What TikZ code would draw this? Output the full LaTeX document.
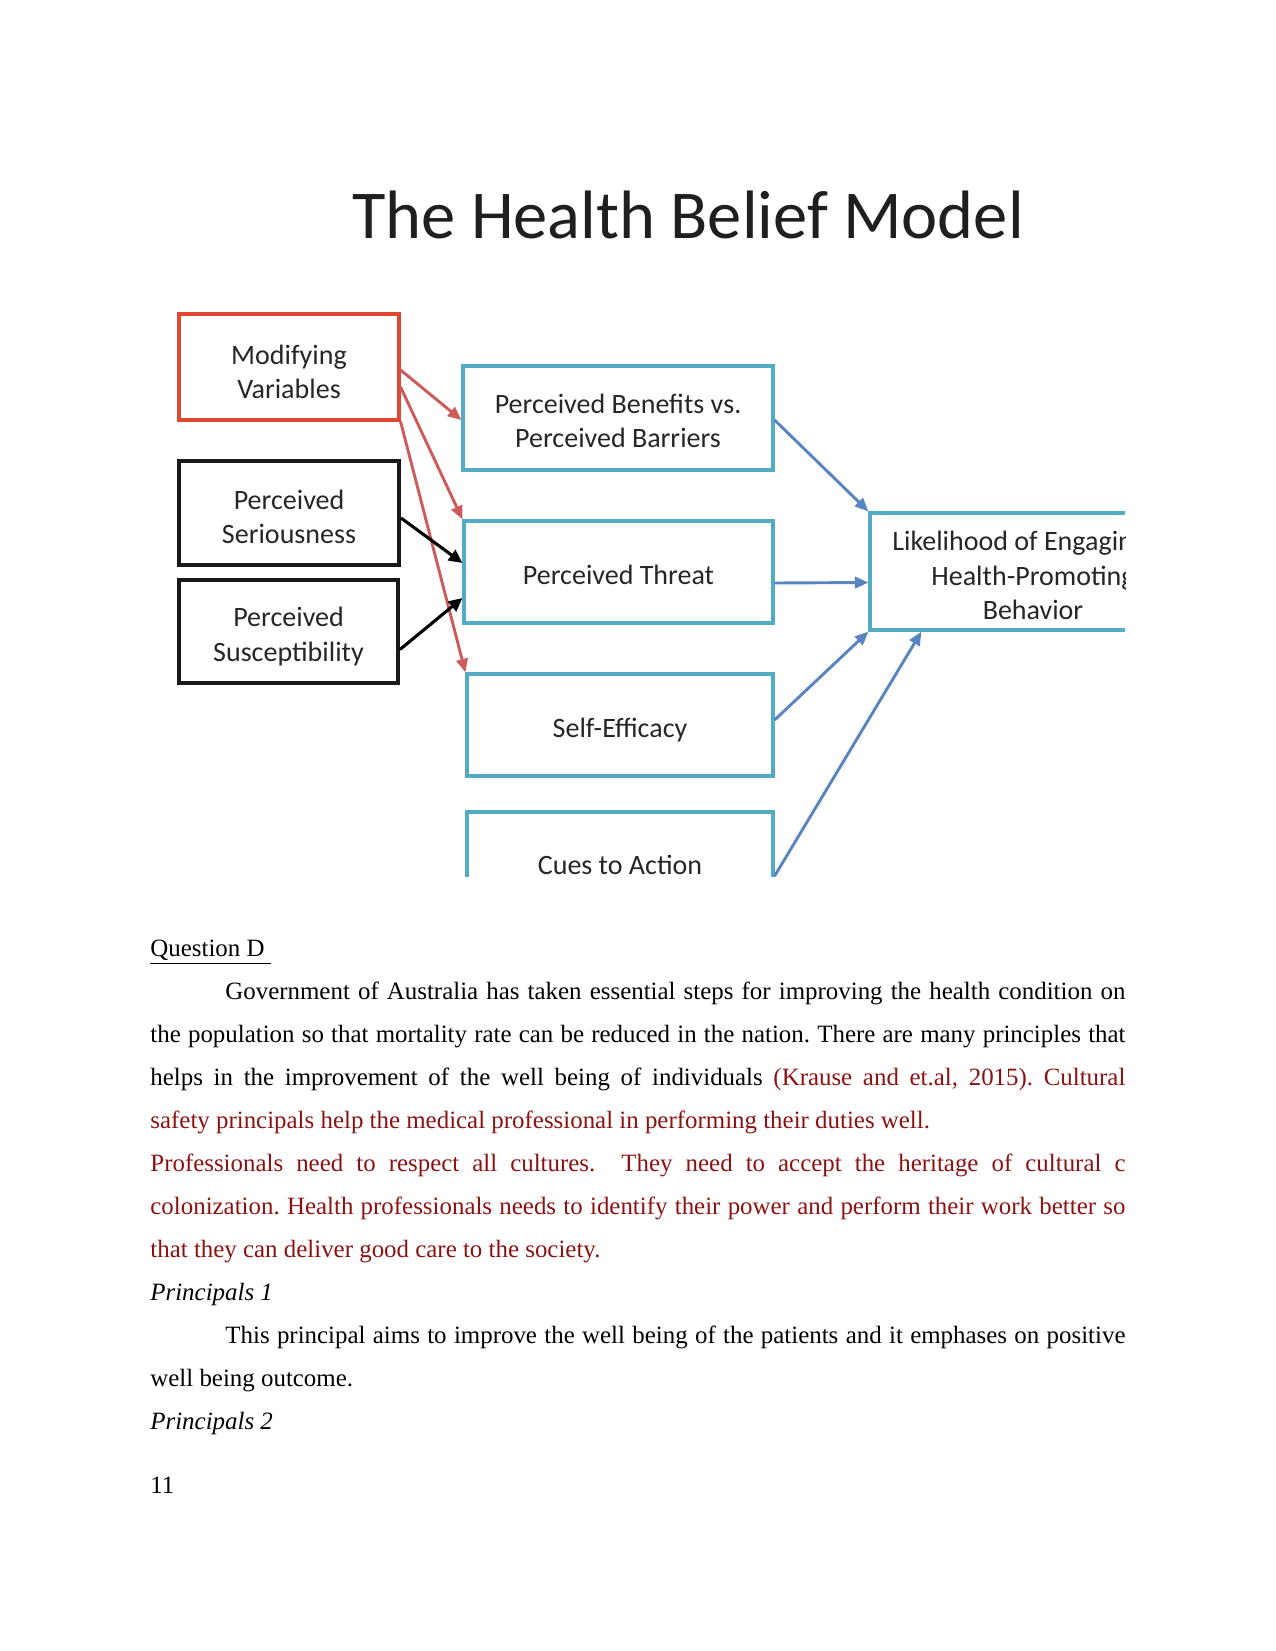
\documentclass[tikz,border=0pt]{standalone}
\usepackage{fontspec}
\setmainfont{Liberation Serif}
\newfontfamily\diagfont{Carlito}
\usetikzlibrary{arrows.meta,calc}
\definecolor{mvred}{RGB}{222,72,48}
\definecolor{arrred}{RGB}{204,92,92}
\definecolor{tealb}{RGB}{84,172,196}
\definecolor{arrblue}{RGB}{88,132,192}
\definecolor{txtred}{RGB}{140,18,18}
\frenchspacing
\begin{document}
\begin{tikzpicture}[x=0.48bp,y=-0.48bp,
  boxbase/.style={draw, line width=1.5bp, inner sep=0pt},
  boxtext/.style={inner sep=0pt, align=center,
    font=\diagfont\fontsize{13.5}{16.5}\selectfont, text=black!85},
  redbox/.style={boxbase, draw=mvred},
  blkbox/.style={boxbase, draw=black!90, line width=1.9bp},
  tealbox/.style={boxbase, draw=tealb},
  redarr/.style={draw=arrred, line width=1.4bp, -{Triangle[length=6.5bp,width=5.5bp]}},
  blkarr/.style={draw=black, line width=1.5bp, -{Triangle[length=6.5bp,width=6bp]}},
  bluearr/.style={draw=arrblue, line width=1.4bp, -{Triangle[length=6.5bp,width=5.5bp]}},
  para/.style={anchor=base west, inner sep=0pt, font=\fontsize{12}{14}\selectfont}
]
\useasboundingbox (0,0) rectangle (1275,1651);

\node[font=\diagfont\fontsize{33}{40}\selectfont, anchor=base, text=black!88, inner sep=0pt] (title) at (688,238) {The Health Belief Model};

\begin{scope}
\clip (0,0) rectangle (1125,876);
\node[redbox, minimum width=105.6bp, minimum height=50.9bp] (mv) at (289,367) {};
\node[blkbox, minimum width=105.6bp, minimum height=49.9bp] (ps) at (289,513) {};
\node[blkbox, minimum width=105.1bp, minimum height=49.4bp] (su) at (288.5,631.5) {};
\node[tealbox, minimum width=148.8bp, minimum height=49.9bp] (pb) at (618,418) {};
\node[tealbox, minimum width=148.3bp, minimum height=49bp] (pt) at (618.5,572) {};
\node[tealbox, minimum width=146.9bp, minimum height=49bp] (se) at (620,725) {};
\node[tealbox, minimum width=146.9bp, minimum height=49bp] (ca) at (620,863) {};
\node[tealbox, minimum width=156.5bp, minimum height=56.2bp] (lk) at (1033,571.5) {};

\node[boxtext] (mvt) at ($(mv.center)+(0,5)$) {Modifying\\Variables};
\node[boxtext] (pst) at ($(ps.center)+(0,4)$) {Perceived\\Seriousness};
\node[boxtext] (sut) at ($(su.center)+(0,5)$) {Perceived\\Susceptibility};
\node[boxtext] (pbt) at ($(pb.center)+(0,3)$) {Perceived Benefits vs.\\Perceived Barriers};
\node[boxtext] (ptt) at ($(pt.center)+(0,3)$) {Perceived Threat};
\node[boxtext] (set) at ($(se.center)+(0,5)$) {Self-Efficacy};
\node[boxtext] (cat) at ($(ca.center)+(0,2)$) {Cues to Action};
\node[boxtext] (lkt) at ($(lk.center)+(0,4)$) {Likelihood of Engaging in\\Health-Promoting\\Behavior};

\draw[redarr] ($(mv.east)+(0,3)$) -- ($(pb.west)+(0,2)$);
\draw[redarr] ($(mv.east)+(0,20)$) -- (pt.north west);
\draw[redarr] (mv.south east) -- (se.north west);
\draw[blkarr] ($(ps.east)+(0,5)$) -- ($(pt.west)+(0,-9)$);
\draw[blkarr] ($(su.east)+(0,18)$) -- ($(pt.west)+(0,26)$);
\draw[bluearr] ($(pb.east)+(0,2)$) -- (lk.north west);
\draw[bluearr] ($(pt.east)+(0,11)$) -- ($(lk.west)+(0,11)$);
\draw[bluearr] ($(se.east)+(0,-5)$) -- (lk.south west);
\draw[bluearr] ($(ca.east)+(0,13)$) -- ($(lk.south west)+(53,0)$);
\end{scope}

\node[para] (q) at (150,956) {\underline{Question D\ }};
\node[para] (l1) at (225,999) {\hbox to 432bp{Government of Australia has taken essential steps for improving the health condition on}};
\node[para] (l2) at (150,1042) {\hbox to 468bp{the population so that mortality rate can be reduced in the nation. There are many principles that}};
\node[para] (l3) at (150,1085) {\hbox to 468bp{helps in the improvement of the well being of individuals \textcolor{txtred}{(Krause and et.al, 2015). Cultural}}};
\node[para, text=txtred] (l4) at (150,1128) {safety principals help the medical professional in performing their duties well.};
\node[para, text=txtred] (l5) at (150,1171) {\hbox to 468bp{Professionals need to respect all cultures.\ \ They need to accept the heritage of cultural c}};
\node[para, text=txtred] (l6) at (150,1214) {\hbox to 468bp{colonization. Health professionals needs to identify their power and perform their work better so}};
\node[para, text=txtred] (l7) at (150,1257) {that they can deliver good care to the society.};
\node[para] (p1) at (150,1300) {\textit{Principals 1}};
\node[para] (l8) at (225,1343) {\hbox to 432bp{This principal aims to improve the well being of the patients and it emphases on positive}};
\node[para] (l9) at (150,1386) {well being outcome.};
\node[para] (p2) at (150,1429) {\textit{Principals 2}};
\node[para] (pg) at (150,1493) {11};
\end{tikzpicture}
\end{document}
